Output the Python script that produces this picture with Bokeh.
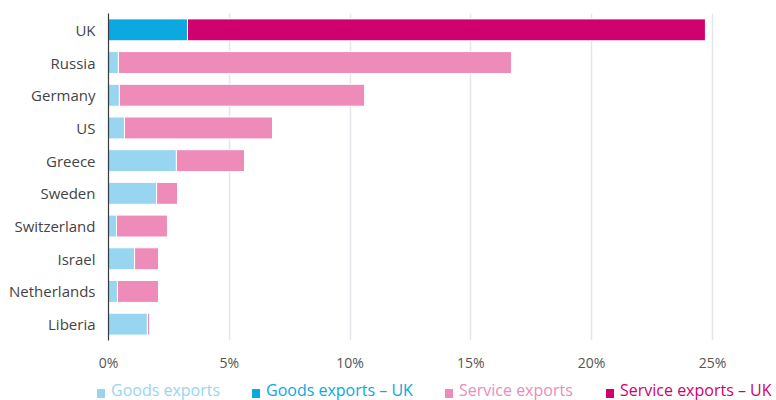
from bokeh.plotting import figure
from bokeh.models import (ColumnDataSource, FixedTicker, CustomJSTickFormatter, Div)
from bokeh.layouts import column
from bokeh.embed import file_html
from bokeh.resources import INLINE

countries = ["UK", "Russia", "Germany", "US", "Greece", "Sweden",
             "Switzerland", "Israel", "Netherlands", "Liberia"]
goods = [3.27, 0.41, 0.45, 0.66, 2.81, 1.99, 0.33, 1.08, 0.37, 1.61]
services = [21.44, 16.27, 10.15, 6.13, 2.82, 0.87, 2.11, 0.99, 1.70, 0.09]
x_ticks = [0, 5, 10, 15, 20, 25]
legend_labels = ["Goods exports", "Goods exports \u2013 UK",
                 "Service exports", "Service exports \u2013 UK"]

C_GOODS = "#97d5f1"
C_GOODS_UK = "#0ca8e0"
C_SERV = "#ee8bb9"
C_SERV_UK = "#d0006f"
colors = [C_GOODS, C_GOODS_UK, C_SERV, C_SERV_UK]

FONT = "Open Sans"

def subset(is_uk):
    idx = [i for i, c in enumerate(countries) if (c == "UK") == is_uk]
    return ColumnDataSource(dict(
        country=[countries[i] for i in idx],
        goods=[goods[i] for i in idx],
        total=[goods[i] + services[i] for i in idx],
    ))

src_uk = subset(True)
src_other = subset(False)

p = figure(width=760, height=380, y_range=list(reversed(countries)),
           x_range=(0, 26.99), output_backend="svg", toolbar_location=None,
           min_border_left=108, min_border_right=0, min_border_top=13,
           min_border_bottom=40)
p.outline_line_color = None

H = 0.67
p.hbar(y="country", left=0, right="goods", height=H, source=src_other,
       fill_color=C_GOODS, line_color="white", line_width=1)
p.hbar(y="country", left=0, right="goods", height=H, source=src_uk,
       fill_color=C_GOODS_UK, line_color="white", line_width=1)
p.hbar(y="country", left="goods", right="total", height=H, source=src_other,
       fill_color=C_SERV, line_color="white", line_width=1)
p.hbar(y="country", left="goods", right="total", height=H, source=src_uk,
       fill_color=C_SERV_UK, line_color="white", line_width=1)

p.ygrid.grid_line_color = None
p.xgrid.grid_line_color = "#e3e6ea"
p.xgrid.grid_line_width = 1.5
p.xaxis.ticker = FixedTicker(ticks=x_ticks)
p.xaxis.formatter = CustomJSTickFormatter(code="return tick + '%';")
p.xaxis.axis_line_color = None
p.xaxis.major_tick_line_color = None
p.xaxis.minor_tick_line_color = None
p.xaxis.major_label_text_font = FONT
p.xaxis.major_label_text_font_size = "14px"
p.xaxis.major_label_text_color = "#555555"
p.xaxis.major_label_standoff = 6

p.yaxis.axis_line_color = "#333a40"
p.yaxis.axis_line_width = 1.2
p.yaxis.major_tick_line_color = None
p.yaxis.minor_tick_line_color = None
p.yaxis.major_label_text_font = FONT
p.yaxis.major_label_text_font_size = "15px"
p.yaxis.major_label_text_color = "#444444"
p.yaxis.major_label_standoff = 7

# legend strip (HTML text)
glyph_x = [97, 252, 445, 606]
parts = []
for label, col, gx in zip(legend_labels, colors, glyph_x):
    parts.append(
        f'<span style="position:absolute;left:{gx}px;top:9px;width:8px;height:9px;'
        f'background:{col};"></span>'
        f'<span style="position:absolute;left:{gx + 14}px;top:0px;white-space:nowrap;'
        f'font-family:\'Open Sans\';font-size:16px;line-height:20px;color:{col};">'
        f'{label}</span>'
    )
html = ('<div style="position:relative;width:776px;height:20px;overflow:visible;">'
        + "".join(parts) + "</div>")
leg = Div(text=html, width=760, height=20, margin=(0, 0, 0, 0),
          styles={"overflow": "visible"})

layout = column(p, leg, spacing=0)
open("out.html", "w").write(file_html(layout, INLINE))
